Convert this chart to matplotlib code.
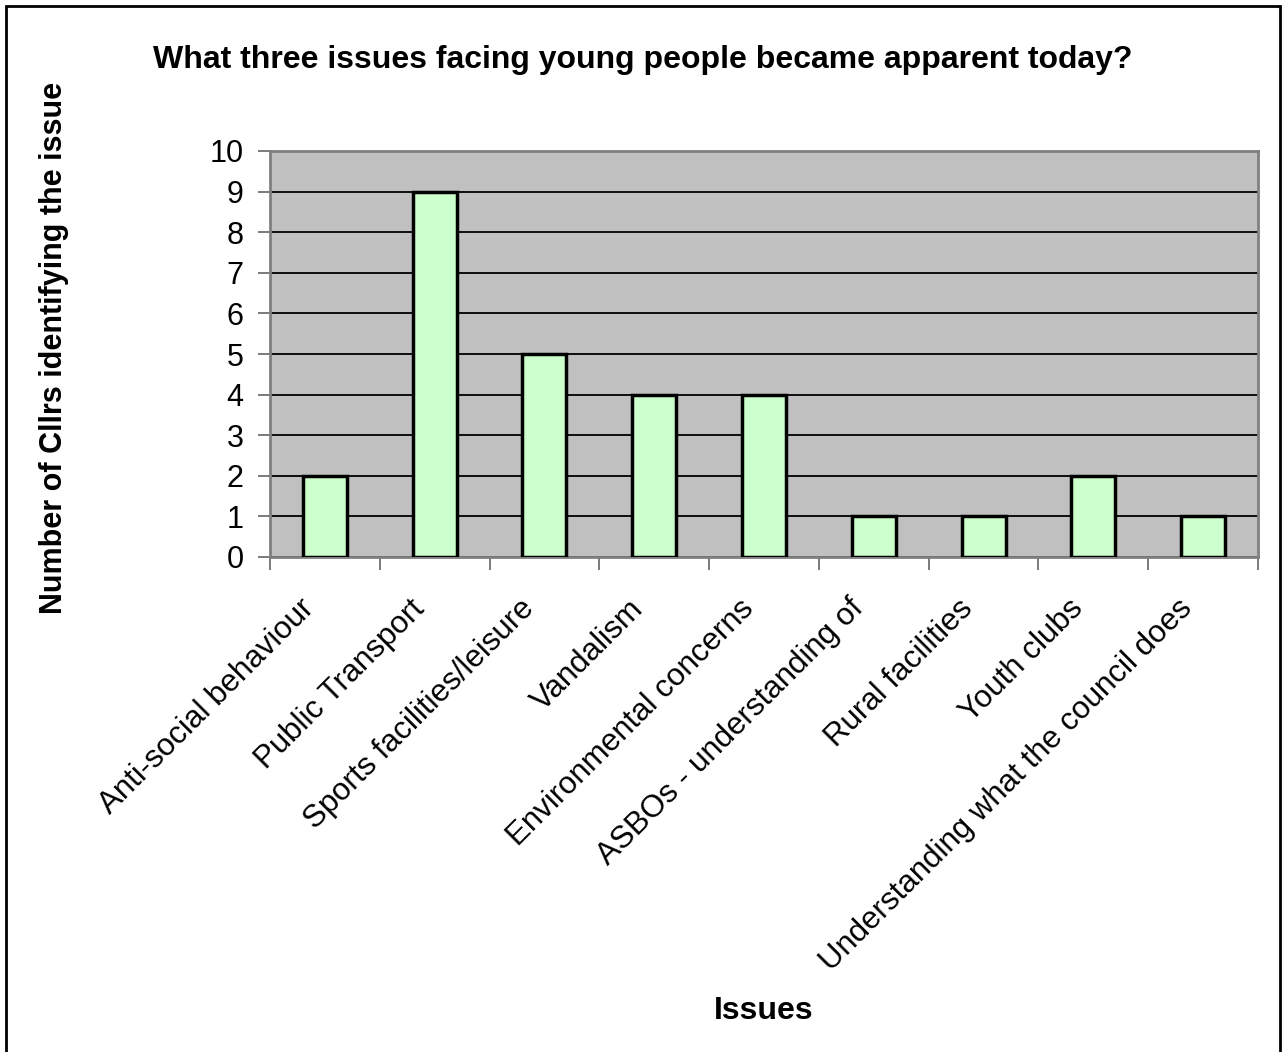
import matplotlib
matplotlib.use("Agg")
import matplotlib.pyplot as plt
from matplotlib.patches import Rectangle
import matplotlib.transforms as mtransforms

categories = ["Anti-social behaviour", "Public Transport", "Sports facilities/leisure",
              "Vandalism", "Environmental concerns", "ASBOs - understanding of",
              "Rural facilities", "Youth clubs", "Understanding what the council does"]
values = [2, 9, 5, 4, 4, 1, 1, 2, 1]
yticks = list(range(0, 11))

plt.rcParams['font.family'] = ['Liberation Sans', 'DejaVu Sans']

W, H = 1286, 1052
fig = plt.figure(figsize=(W / 100, H / 100), dpi=100)
ax = fig.add_axes([270 / W, 1 - 557 / H, (1258 - 270) / W, (557 - 151) / H])
ax.set_facecolor('#C0C0C0')

x = list(range(len(categories)))
ax.bar(x, values, width=0.4, color='#CCFFCC', edgecolor='black', linewidth=2.5, zorder=3)

ax.set_xlim(-0.5, len(categories) - 0.5)
ax.set_ylim(0, 10)
ax.set_yticks(yticks)
ax.set_yticklabels([str(t) for t in yticks], fontsize=22)
ax.yaxis.grid(True, color='black', linewidth=1.3, zorder=1)
ax.set_axisbelow(True)
ax.tick_params(axis='y', length=9, width=1.3, color='#707070', pad=10)

ax.set_xticks(x)
ax.set_xticklabels(categories, fontsize=22.5, rotation=45, ha='right', va='center',
                   rotation_mode='anchor')
ax.tick_params(axis='x', which='major', length=0, pad=34)
ax.set_xticks([i - 0.5 for i in range(len(categories) + 1)], minor=True)
ax.tick_params(axis='x', which='minor', length=9, width=1.3, color='#707070')
offset = mtransforms.ScaledTranslation(-15 / 100, 0, fig.dpi_scale_trans)
for lbl in ax.get_xticklabels():
    lbl.set_transform(lbl.get_transform() + offset)

for s in ax.spines.values():
    s.set_color('#808080')
    s.set_linewidth(2)

fig.text(643 / W, 1 - 60 / H, "What three issues facing young people became apparent today?",
         fontsize=23, fontweight='bold', ha='center', va='center')
fig.text(54 / W, 1 - 348 / H, "Number of Cllrs identifying the issue",
         fontsize=22, fontweight='bold', ha='center', va='center', rotation=90)
fig.text(764 / W, 1 - 1011 / H, "Issues",
         fontsize=23, fontweight='bold', ha='center', va='center')

fig.add_artist(Rectangle((6 / W, -0.05), (1280 - 6) / W, 1.05 - 6 / H,
                         transform=fig.transFigure, fill=False,
                         edgecolor='black', linewidth=2))

fig.savefig("out.png", dpi=100)
